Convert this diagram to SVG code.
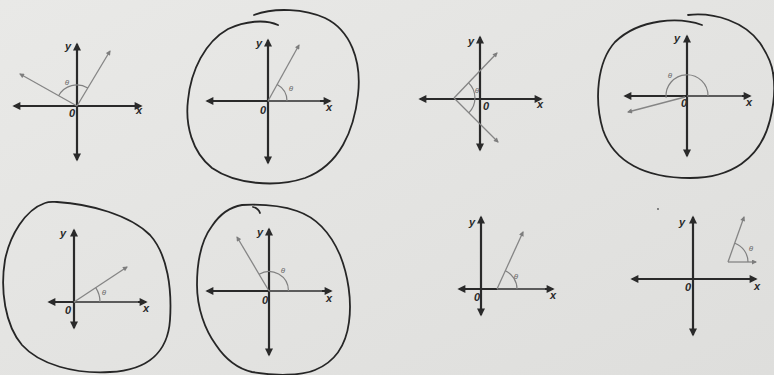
<svg xmlns="http://www.w3.org/2000/svg" width="774" height="375" viewBox="0 0 774 375">
<defs>
<linearGradient id="bg" x1="0" y1="0" x2="1" y2="1">
<stop offset="0" stop-color="#e9e9e7"/>
<stop offset="1" stop-color="#dededc"/>
</linearGradient>
<marker id="ax" viewBox="0 0 10 10" refX="8" refY="5" markerWidth="9" markerHeight="8" markerUnits="userSpaceOnUse" orient="auto-start-reverse">
<path d="M0,0 L10,5 L0,10 Z" fill="#2a2a2a"/>
</marker>
<marker id="ra" viewBox="0 0 10 10" refX="8" refY="5" markerWidth="7" markerHeight="5" markerUnits="userSpaceOnUse" orient="auto">
<path d="M0,0 L10,5 L0,10 Z" fill="#7d7d7d"/>
</marker>
</defs>
<style>
.axis{stroke:#2a2a2a;stroke-width:2.2;fill:none;marker-start:url(#ax);marker-end:url(#ax)}
.ray{stroke:#858585;stroke-width:1.3;fill:none;marker-end:url(#ra)}
.init{stroke:#8c8c8c;stroke-width:1;fill:none}
.arc{stroke:#808080;stroke-width:1.2;fill:none}
.ring{stroke:#262626;stroke-width:1.8;fill:none;stroke-linecap:round}
.lbl{font-family:"Liberation Sans",Arial,sans-serif;font-size:11px;font-weight:bold;font-style:italic;fill:#2a2a2a;text-anchor:middle}
.th{font-family:"Liberation Sans",Arial,sans-serif;font-size:8px;font-style:italic;fill:#6a6a6a;text-anchor:middle}
</style>
<rect width="774" height="375" fill="url(#bg)"/>

<g id="panel1">
<line class="axis" x1="14" y1="106" x2="141" y2="106"/>
<line class="axis" x1="77" y1="44" x2="77" y2="160"/>
<line class="ray" x1="77" y1="106" x2="110" y2="51"/>
<line class="ray" x1="77" y1="106" x2="20" y2="74"/>
<path class="arc" d="M87.8,88 A21,21 0 0 0 58.6,95.8"/>
<text class="th" x="67" y="85">θ</text>
<text class="lbl" x="68" y="50">y</text>
<text class="lbl" x="139" y="114">x</text>
<text class="lbl" x="72" y="117">0</text>
</g>

<g id="panel2">
<path class="ring" d="M254,15 C275,7 305,9 325,18 C350,30 362,60 358,95 C354,130 340,165 305,178 C275,188 235,184 212,168 C192,152 185,125 188,100 C191,70 205,42 228,29 C245,21 265,19 278,25"/>
<line class="axis" x1="207" y1="101" x2="330" y2="101"/>
<line class="axis" x1="268" y1="40" x2="268" y2="163"/>
<line class="init" x1="268" y1="101" x2="320" y2="101"/>
<line class="ray" x1="268" y1="101" x2="299" y2="45"/>
<path class="arc" d="M287,101 A19,19 0 0 0 277.2,84.4"/>
<text class="th" x="291" y="91">θ</text>
<text class="lbl" x="259" y="47">y</text>
<text class="lbl" x="329" y="111">x</text>
<text class="lbl" x="263" y="114">0</text>
</g>

<g id="panel3">
<line class="axis" x1="420" y1="99" x2="541" y2="99"/>
<line class="axis" x1="480" y1="37" x2="480" y2="150"/>
<line class="ray" x1="454" y1="98" x2="497" y2="53"/>
<line class="ray" x1="454" y1="98" x2="498" y2="142"/>
<path class="arc" d="M468.8,112.8 A21,21 0 0 0 468.6,82.9"/>
<text class="th" x="477" y="93">θ</text>
<text class="lbl" x="471" y="45">y</text>
<text class="lbl" x="540" y="108">x</text>
<text class="lbl" x="486" y="110">0</text>
</g>

<g id="panel4">
<path class="ring" d="M702,25 C680,17 640,18 615,42 C597,62 594,100 603,130 C614,162 645,178 690,178 C730,178 760,160 770,120 C775,100 775,85 773,73"/>
<path class="ring" d="M688,15 C715,12 745,22 760,43 C768,55 772,65 773,73"/>
<line class="axis" x1="625" y1="96" x2="750" y2="96"/>
<line class="axis" x1="687" y1="36" x2="687" y2="156"/>
<line class="init" x1="687" y1="96" x2="742" y2="96"/>
<line class="ray" x1="685" y1="97" x2="628" y2="112"/>
<path class="arc" d="M708,96 A21,21 0 1 0 666.1,97.8"/>
<text class="th" x="670" y="78">θ</text>
<text class="lbl" x="677" y="42">y</text>
<text class="lbl" x="749" y="106">x</text>
<text class="lbl" x="684" y="107">0</text>
</g>

<g id="panel5">
<path class="ring" d="M57,202 C90,204 130,215 150,235 C168,255 172,290 170,320 C168,350 150,370 110,372 C75,374 40,365 22,345 C5,325 0,290 5,260 C10,235 25,210 45,203 C50,201 54,202 57,202 Z"/>
<line class="axis" x1="49" y1="302" x2="146" y2="302"/>
<line class="axis" x1="74" y1="230" x2="74" y2="328"/>
<line class="init" x1="74" y1="302" x2="138" y2="302"/>
<line class="ray" x1="74" y1="302" x2="127" y2="267"/>
<path class="arc" d="M100,302 A26,26 0 0 0 95.7,287.7"/>
<text class="th" x="104" y="295">θ</text>
<text class="lbl" x="63" y="237">y</text>
<text class="lbl" x="146" y="312">x</text>
<text class="lbl" x="68" y="314">0</text>
</g>

<g id="panel6">
<path class="ring" d="M242,205 C262,204 282,206 297,211 C315,217 330,232 340,255 C348,275 352,300 349,322 C346,345 335,362 315,370 C300,376 275,376 252,372 C235,368 224,357 216,345 C205,330 197,308 197,285 C197,262 200,242 212,226 C220,214 230,207 242,205 Z"/>
<path class="ring" d="M253,207 C257,208 259,210 260,213"/>
<line class="axis" x1="207" y1="291" x2="331" y2="291"/>
<line class="axis" x1="269" y1="229" x2="269" y2="355"/>
<line class="init" x1="269" y1="291" x2="322" y2="291"/>
<line class="ray" x1="269" y1="291" x2="237" y2="237"/>
<path class="arc" d="M288.5,291 A19.5,19.5 0 0 0 259.1,274.2"/>
<text class="th" x="283" y="273">θ</text>
<text class="lbl" x="260" y="236">y</text>
<text class="lbl" x="329" y="302">x</text>
<text class="lbl" x="265" y="304">0</text>
</g>

<g id="panel7">
<line class="axis" x1="459" y1="289" x2="553" y2="289"/>
<line class="axis" x1="481" y1="217" x2="481" y2="315"/>
<line class="init" x1="497" y1="289" x2="545" y2="289"/>
<line class="ray" x1="497" y1="289" x2="523" y2="232"/>
<path class="arc" d="M517,289 A20,20 0 0 0 505.3,270.8"/>
<text class="th" x="516" y="279">θ</text>
<text class="lbl" x="472" y="226">y</text>
<text class="lbl" x="553" y="299">x</text>
<text class="lbl" x="477" y="301">0</text>
</g>

<g id="panel8">
<circle cx="658" cy="209" r="0.9" fill="#555"/>
<line class="axis" x1="632" y1="279" x2="756" y2="279"/>
<line class="axis" x1="693" y1="217" x2="693" y2="335"/>
<line class="ray" x1="728" y1="262" x2="756" y2="262"/>
<line class="ray" x1="728" y1="262" x2="744" y2="217"/>
<path class="arc" d="M748,262 A20,20 0 0 0 734.7,243.2"/>
<text class="th" x="751" y="251">θ</text>
<text class="lbl" x="682" y="226">y</text>
<text class="lbl" x="757" y="290">x</text>
<text class="lbl" x="688" y="291">0</text>
</g>
</svg>
